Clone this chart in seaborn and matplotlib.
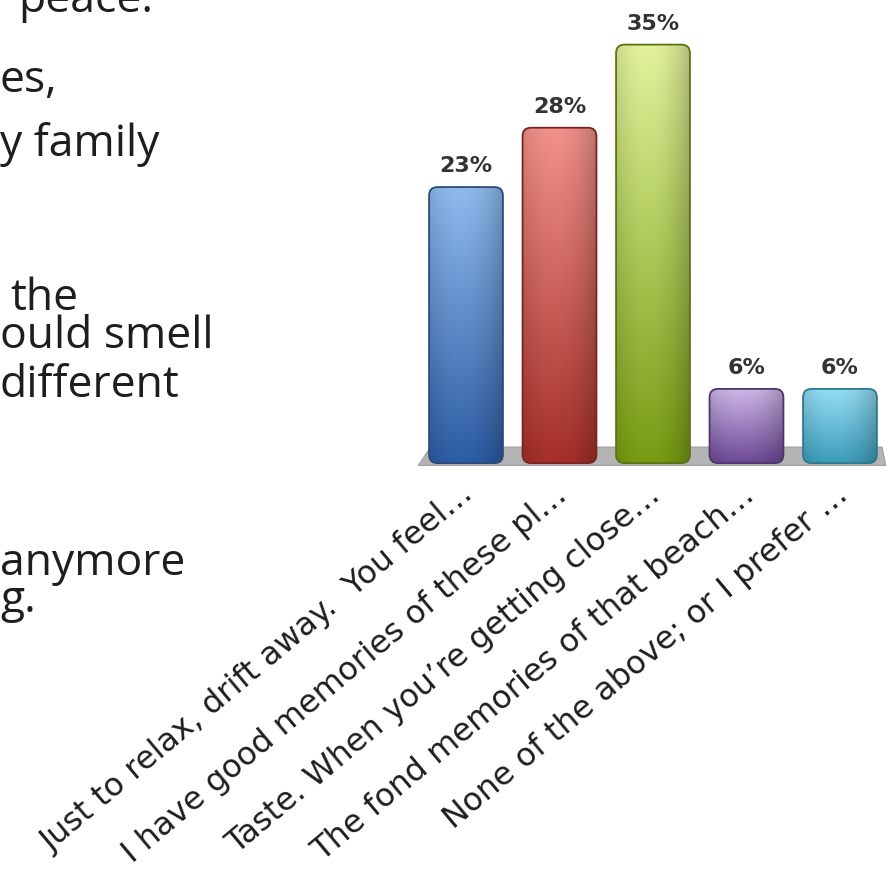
import numpy as np
import pandas as pd
import seaborn as sns
import matplotlib.pyplot as plt
from matplotlib.colors import to_rgb
from matplotlib.patches import Polygon, FancyBboxPatch
from matplotlib.transforms import ScaledTranslation

# ---------------- data ----------------
categories = [
    "Just to relax, drift away.  You feel\u2026",
    "I have good memories of these pl\u2026",
    "Taste. When you\u2019re getting close\u2026",
    "The fond memories of that beach\u2026",
    "None of the above; or I prefer \u2026",
]
values = [23, 28, 35, 6, 6]
value_labels = ["23%", "28%", "35%", "6%", "6%"]

side_text = ["peace.", "es,", "y family", "the", "ould smell",
             "different", "anymore", "g."]

# ---------------- styles ----------------
base_colors = ["#4F81BD", "#C0504D", "#9BBB59", "#8064A2", "#4BACC6"]
top_colors = ["#8FBBEE", "#F2928B", "#E2F39C", "#CFB8E8", "#95DEF3"]
bottom_colors = ["#2C5CA4", "#A52F29", "#779C12", "#6C4896", "#3C9DBC"]
edge_colors = ["#2A4A7A", "#7A2420", "#5A7212", "#4E3570", "#2E7890"]

sns.set_theme(style="white")
plt.rcParams["font.family"] = ["DejaVu Sans"]

W, H = 890, 869
fig = plt.figure(figsize=(W / 100, H / 100), dpi=100)
fig.patch.set_facecolor("white")

# axes placement in pixels
ax_left, ax_right = 410, 890
ax_top, ax_bottom = 9, 472
ax = fig.add_axes([ax_left / W, 1 - ax_bottom / H,
                   (ax_right - ax_left) / W, (ax_bottom - ax_top) / H])
xlim = (-0.599, 4.535)
ylim = (-1, 38)

df = pd.DataFrame({"cat": categories, "val": values})
sns.barplot(data=df, x="cat", y="val", hue="cat", palette=base_colors,
            width=0.79, ax=ax, legend=False, saturation=1)

# aspect between data units (px per unit) for rounded corners
px_x = (ax_right - ax_left) / (xlim[1] - xlim[0])
px_y = (ax_bottom - ax_top) / (ylim[1] - ylim[0])
m_aspect = px_x / px_y

# gradient fills clipped to rounded versions of the seaborn bars
for patch, ct, cb, ce in zip(ax.patches[:len(values)], top_colors, bottom_colors, edge_colors):
    x0, y0 = patch.get_x(), patch.get_y()
    w, h = patch.get_width(), patch.get_height()
    y0b = y0 - 3 / px_y
    hb = h + 3 / px_y
    rounded = FancyBboxPatch((x0, y0b), w, hb,
                             boxstyle="round,pad=0,rounding_size=0.09",
                             mutation_aspect=m_aspect,
                             facecolor="none", edgecolor=ce, linewidth=1.3,
                             zorder=3)
    ax.add_patch(rounded)
    t = np.linspace(0, 1, 120)[:, None, None]
    grad = np.array(to_rgb(ct))[None, None, :] * (1 - t) + np.array(to_rgb(cb))[None, None, :] * t
    s = np.linspace(0, 1, 60)
    shade = 1 - 0.22 * (np.abs(s - 0.42) / 0.58) ** 2
    img = np.clip(grad * shade[None, :, None], 0, 1)
    im = ax.imshow(img, extent=[x0, x0 + w, y0b, y0 + h], aspect="auto",
                   origin="upper", zorder=2.5, interpolation="bilinear")
    im.set_clip_path(rounded)
    patch.set_facecolor("none")
    patch.set_edgecolor("none")
    patch.set_zorder(3)

# grey floor
floor = Polygon([(-0.51, -0.45), (4.49, -0.45), (4.45, 1.1), (-0.38, 1.1)],
                closed=True, facecolor="#B4B4B4", edgecolor="#A0A0A0",
                linewidth=0.8, zorder=1)
ax.add_patch(floor)

# value labels
for i, (v, lab) in enumerate(zip(values, value_labels)):
    ax.annotate(lab, (i, v), xytext=(0, 15), textcoords="offset points",
                ha="center", va="center", fontsize=16, color="#333333",
                fontweight="bold")

ax.set_xlim(*xlim)
ax.set_ylim(*ylim)
ax.set_xlabel("")
ax.set_ylabel("")
ax.set_yticks([])
ax.set_xticks(range(len(categories)))
ax.set_xticklabels(categories, rotation=40, ha="right",
                   rotation_mode="anchor", fontsize=23, color="#1E1E1E")
ax.tick_params(axis="x", length=0, pad=5)
offset = ScaledTranslation(-6 / 100, 0, fig.dpi_scale_trans)
for lbl in ax.get_xticklabels():
    lbl.set_transform(lbl.get_transform() + offset)
sns.despine(ax=ax, left=True, bottom=True)
ax.set_facecolor("none")

# surrounding slide text (left side)
side_x = [18, 0, 0, 10, 0, 0, 0, 0]
side_baseline = [12, 92, 156, 310, 348, 397, 575, 612]
for txt, x, yb in zip(side_text, side_x, side_baseline):
    fig.text(x / W, 1 - yb / H, txt, ha="left", va="baseline",
             fontsize=32, color="#1E1E1E", family=["Open Sans", "DejaVu Sans"])

fig.savefig("out.png", dpi=100, facecolor="white")
